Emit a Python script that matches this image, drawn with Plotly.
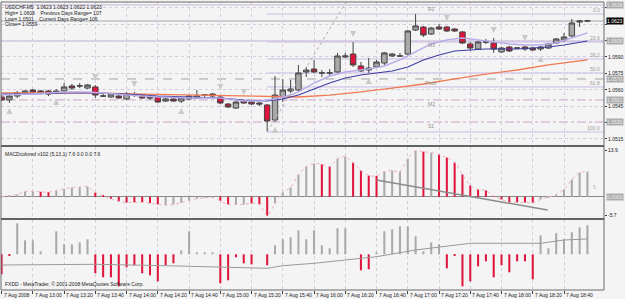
import plotly.graph_objects as go

# ---------------- data ----------------
bars = list(range(76))  # M5 bars, 7 Aug 2008 12:40 ... 18:55

open_ = [1.05534,1.05507,1.05543,1.05571,1.05598,1.05589,1.05589,1.05571,1.05589,1.05635,
 1.05635,1.05616,1.05626,1.05543,1.05534,1.05543,1.05516,1.05552,1.05552,1.05534,
 1.05534,1.05497,1.05516,1.05497,1.05516,1.05525,1.05552,1.05561,1.05534,1.05470,
 1.05433,1.05497,1.05488,1.05479,1.05461,1.05324,1.05534,1.05589,1.05598,1.05763,
 1.05790,1.05754,1.05754,1.05763,1.05900,1.05927,1.05818,1.05781,1.05809,1.05845,
 1.05909,1.05909,1.05927,1.06147,1.06174,1.06110,1.06174,1.06174,1.06156,1.06129,
 1.06019,1.05973,1.06037,1.06028,1.05946,1.05991,1.05982,1.05991,1.05982,1.05973,
 1.05982,1.06028,1.06056,1.06092,1.06220,1.06230]
high = [1.05552,1.05561,1.05589,1.05598,1.05607,1.05598,1.05598,1.05607,1.05662,1.05653,
 1.05662,1.05653,1.05644,1.05561,1.05571,1.05552,1.05580,1.05580,1.05561,1.05543,
 1.05543,1.05525,1.05525,1.05534,1.05552,1.05598,1.05561,1.05571,1.05552,1.05479,
 1.05497,1.05507,1.05497,1.05488,1.05470,1.05726,1.05699,1.05690,1.05827,1.05809,
 1.05873,1.05781,1.05790,1.05937,1.05937,1.06037,1.05854,1.05891,1.05873,1.05946,
 1.05937,1.05937,1.06147,1.06293,1.06184,1.06174,1.06202,1.06184,1.06165,1.06138,
 1.06037,1.06046,1.06065,1.06074,1.05991,1.06001,1.05991,1.06001,1.05991,1.06001,
 1.06028,1.06074,1.06120,1.06248,1.06239,1.06230]
low = [1.05497,1.05479,1.05525,1.05561,1.05571,1.05561,1.05543,1.05561,1.05580,1.05598,
 1.05616,1.05607,1.05525,1.05534,1.05525,1.05516,1.05507,1.05534,1.05516,1.05507,
 1.05479,1.05488,1.05488,1.05479,1.05507,1.05516,1.05534,1.05525,1.05470,1.05433,
 1.05424,1.05470,1.05461,1.05452,1.05214,1.05305,1.05488,1.05571,1.05589,1.05717,
 1.05754,1.05717,1.05726,1.05754,1.05891,1.05809,1.05763,1.05754,1.05799,1.05827,
 1.05900,1.05900,1.05918,1.06138,1.06083,1.06101,1.06147,1.06129,1.06129,1.06019,
 1.05955,1.05964,1.06019,1.05937,1.05937,1.05946,1.05973,1.05955,1.05955,1.05955,
 1.05973,1.06019,1.06037,1.06083,1.06174,1.06220]
close = [1.05507,1.05543,1.05571,1.05589,1.05580,1.05571,1.05561,1.05589,1.05626,1.05616,
 1.05635,1.05644,1.05552,1.05543,1.05561,1.05525,1.05561,1.05552,1.05525,1.05525,
 1.05488,1.05516,1.05497,1.05525,1.05543,1.05543,1.05552,1.05543,1.05479,1.05443,
 1.05488,1.05479,1.05470,1.05470,1.05314,1.05552,1.05598,1.05607,1.05754,1.05781,
 1.05763,1.05754,1.05754,1.05909,1.05909,1.05827,1.05772,1.05799,1.05854,1.05937,
 1.05927,1.05909,1.06138,1.06184,1.06101,1.06165,1.06156,1.06138,1.06138,1.06028,
 1.05982,1.06037,1.06037,1.05973,1.05982,1.05955,1.05982,1.05973,1.05964,1.05991,
 1.06019,1.06065,1.06083,1.06211,1.06229,1.06230]

ma_fast_idx = [0,4,8,11,13,16,20,24,28,31,33,35,37,38,40,42,44,47,49,51,53,55,57,59,61,63,65,67,69,71,73,75]
ma_fast = [1.05552,1.05561,1.05580,1.05580,1.05571,1.05552,1.05534,1.05525,1.05525,1.05497,1.05497,
 1.05516,1.05552,1.05580,1.05662,1.05726,1.05763,1.05790,1.05818,1.05873,1.05946,1.06019,1.06056,
 1.06074,1.06056,1.06037,1.06019,1.06010,1.06010,1.06028,1.06074,1.06120]
ma_mid_idx = [0,4,8,12,16,20,24,28,31,34,36,38,40,42,44,46,48,50,52,54,56,58,60,62,64,66,68,70,72,75]
ma_mid = [1.05561,1.05561,1.05571,1.05571,1.05561,1.05543,1.05534,1.05525,1.05507,1.05497,1.05516,
 1.05552,1.05607,1.05662,1.05708,1.05735,1.05754,1.05772,1.05809,1.05873,1.05918,1.05955,1.05964,
 1.05973,1.05973,1.05973,1.05982,1.05991,1.06010,1.06046]
ma_slow_idx = [0,6,12,18,24,30,34,38,42,46,50,54,58,62,66,70,75]
ma_slow = [1.05571,1.05571,1.05571,1.05561,1.05552,1.05543,1.05534,1.05534,1.05552,1.05580,1.05616,
 1.05653,1.05699,1.05744,1.05781,1.05827,1.05873]

fractal_up = [12, 17, 28, 31, 45, 57, 63, 67]
fractal_down = [1, 7, 23, 35, 47, 69]

pivot_names = ["R1", "M3", "Pivot", "M2", "S1"]
pivot_levels = [1.06376, 1.06046, 1.05699, 1.05507, 1.05305]
pivot_box_text = ["1.0638", "1.0605", "1.0570", "1.0551", "1.0530"]

fib_names = ["0.0", "23.6", "38.2", "50.0", "61.8", "100.0"]
fib_levels = [1.06293, 1.06037, 1.05882, 1.05754, 1.05626, 1.05214]
fib_start_bar = 34
fib_trend = ([34, 44.1], [1.05214, 1.06403])

bid = 1.06229

price_ticks = [1.0515, 1.0530, 1.0545, 1.0560, 1.0575, 1.0590, 1.0605, 1.0620, 1.0635]
price_tick_text = ["1.0515", "", "1.0545", "1.0560", "1.0575", "1.0590", "", "", ""]

macd = [0.0,0.3,0.7,1.6,1.6,1.5,1.4,1.9,2.4,2.8,2.9,3.1,1.3,0.3,-0.6,-1.4,-1.7,-1.7,-1.7,-1.9,
 -2.3,-2.5,-2.3,-1.8,-1.1,-0.6,-0.3,-0.2,-1.2,-2.3,-2.3,-2.3,-2.0,-2.3,-5.7,-2.0,1.3,2.8,6.7,9.1,
 10.0,9.8,9.1,11.5,12.1,10.3,7.9,6.4,6.3,7.6,7.9,7.6,11.5,13.9,13.6,13.3,12.7,11.8,10.3,6.7,
 3.4,2.2,1.9,0.1,-0.8,-1.7,-1.7,-1.7,-1.8,-0.8,-0.1,0.7,2.2,5.2,7.3,7.6]
macd_col = list("rggggrrggg" "ggrrrrrrrr" "rgggggggrr" "ggrrrggggg" "grrggrrrrg"
                "ggggrgrrrr" "rrrrrrrrrg" "gggggg")
macd_trend = ([48.0, 69.9], [5.06, -3.98])
macd_level_label = ("5", 3.0)

osc = [-2.0,-0.1,3.1,1.4,1.4,0.3,0.0,2.3,1.0,1.0,1.2,1.5,-1.9,-2.3,-2.3,-3.2,-1.3,-1.1,-1.9,-2.1,
 -2.7,-1.1,-0.9,0.4,2.3,0.2,0.2,0.2,-2.9,-2.6,-0.3,-0.9,-1.0,0.0,-1.1,0.9,1.5,1.7,2.4,1.5,
 2.4,0.9,0.6,2.6,2.6,0.0,-1.6,-1.5,0.2,2.3,2.5,2.8,2.8,1.8,0.3,1.2,1.0,-1.4,-0.1,-3.2,
 -2.7,-1.2,-0.7,-2.3,-1.1,-1.8,-0.7,-0.7,-2.5,1.9,0.6,2.1,1.5,2.2,2.7,2.9]
osc_sig_idx = [0, 12, 21, 28, 34, 36, 40, 48, 53, 60, 69, 72, 75]
osc_sig = [-1.07, -1.0, -1.14, -1.24, -1.4, -1.14, -0.9, -0.24, 0.43, 1.1, 1.1, 1.43, 1.53]

time_tick_bars = [0,4,8,12,16,20,24,28,32,36,40,44,48,52,56,60,64,68,72]
time_labels = ["7 Aug 2008","7 Aug 13:00","7 Aug 13:20","7 Aug 13:40","7 Aug 14:00","7 Aug 14:20",
 "7 Aug 14:40","7 Aug 15:00","7 Aug 15:20","7 Aug 15:40","7 Aug 16:00","7 Aug 16:20","7 Aug 16:40",
 "7 Aug 17:00","7 Aug 17:20","7 Aug 17:40","7 Aug 18:00","7 Aug 18:20","7 Aug 18:40"]

header = ["USDCHF,M5  1.0623 1.0623 1.0622 1.0623",
          "High= 1.0608    Previous Days Range= 107",
          "Low= 1.0501    Current Days Range= 106",
          "Close= 1.0559"]
macd_title = "MACDcolored v102 (5,13,1) 7.6 0.0 0.0 7.6"
copyright = "FXDD - MetaTrader, \u00a9 2001-2008 MetaQuotes Software Corp."

# ---------------- style ----------------
FONT = "Liberation Sans"
GREY = "#a9a9a9"
RED = "#e0143c"
GRID = "#d6cadf"
X_RANGE = [-0.076, 77.12]
pip_px = 0.0000915

fig = go.Figure()

fig.add_trace(go.Candlestick(
    x=bars, open=open_, high=high, low=low, close=close,
    increasing=dict(line=dict(color="#454545", width=1), fillcolor=GREY),
    decreasing=dict(line=dict(color="#454545", width=1), fillcolor=RED),
    whiskerwidth=0, xaxis="x", yaxis="y", hoverinfo="skip"))

fig.add_trace(go.Scatter(x=ma_slow_idx, y=ma_slow, mode="lines",
    line=dict(color="#f07a52", width=1.3), xaxis="x", yaxis="y"))
fig.add_trace(go.Scatter(x=ma_mid_idx, y=ma_mid, mode="lines",
    line=dict(color="#3e3ea2", width=1.1), xaxis="x", yaxis="y"))
fig.add_trace(go.Scatter(x=ma_fast_idx, y=ma_fast, mode="lines",
    line=dict(color="#b8aae8", width=1.4), xaxis="x", yaxis="y"))

fig.add_trace(go.Scatter(x=fractal_up, y=[high[i] + 5 * pip_px for i in fractal_up], mode="markers",
    marker=dict(symbol="arrow-down", size=6, color="#c8c8c8"), xaxis="x", yaxis="y"))
fig.add_trace(go.Scatter(x=fractal_down, y=[low[i] - 5 * pip_px for i in fractal_down], mode="markers",
    marker=dict(symbol="arrow-up", size=6, color="#c8c8c8"), xaxis="x", yaxis="y"))

fig.add_trace(go.Scatter(x=fib_trend[0], y=fib_trend[1], mode="lines",
    line=dict(color="#b0b0b0", width=1, dash="dot"), xaxis="x", yaxis="y"))

# MACD
fig.add_trace(go.Bar(x=bars, y=macd, width=0.26,
    marker=dict(color=[GREY if c == "g" else RED for c in macd_col], line_width=0),
    xaxis="x", yaxis="y2"))
fig.add_trace(go.Scatter(x=bars, y=macd, mode="lines",
    line=dict(color="#eab0c0", width=1, dash="dot", shape="spline", smoothing=0.8),
    xaxis="x", yaxis="y2"))
fig.add_trace(go.Scatter(x=macd_trend[0], y=macd_trend[1], mode="lines",
    line=dict(color="#8c8c8c", width=1.5), xaxis="x", yaxis="y2"))

# third window
fig.add_trace(go.Bar(x=bars, y=osc, width=0.26,
    marker=dict(color=[GREY if v > 0 else RED for v in osc], line_width=0),
    xaxis="x", yaxis="y3"))
fig.add_trace(go.Scatter(x=osc_sig_idx, y=osc_sig, mode="lines",
    line=dict(color="#9a9a9a", width=1), xaxis="x", yaxis="y3"))

shapes = []
pivot_styles = [("#c4b6dc", "solid"), ("#c4b6dc", "solid"), ("#a4a4a4", "dash"),
                ("#c8a8c8", "dashdot"), ("#d4a4c4", "dashdot")]
for lvl, (col, dsh) in zip(pivot_levels, pivot_styles):
    shapes.append(dict(type="line", xref="paper", x0=0, x1=1, yref="y", y0=lvl, y1=lvl,
                       line=dict(color=col, width=1, dash=dsh), layer="below"))
for lvl in fib_levels:
    shapes.append(dict(type="line", xref="x", x0=fib_start_bar, x1=X_RANGE[1], yref="y", y0=lvl, y1=lvl,
                       line=dict(color="#c8bce4", width=1), layer="below"))
shapes.append(dict(type="line", xref="paper", x0=0, x1=1, yref="y", y0=bid, y1=bid,
                   line=dict(color="#a6a6b4", width=1), layer="below"))
# frame & window separators
shapes.append(dict(type="rect", xref="paper", yref="paper", x0=0, x1=1, y0=0, y1=1,
                   line=dict(color="#6a6a6a", width=1)))
for yp in (0.5, 0.2465):
    shapes.append(dict(type="line", xref="paper", yref="paper", x0=0, x1=1, y0=yp, y1=yp,
                       line=dict(color="#626262", width=2)))

ann = []
for i, t in enumerate(header):
    ann.append(dict(text=t, xref="paper", yref="paper", x=0, y=1, xanchor="left", yanchor="top",
                    xshift=2, yshift=-(i * 5.8), showarrow=False, font=dict(size=5, color="#202020")))
for name, lvl in zip(pivot_names, pivot_levels):
    ann.append(dict(text=name, xref="x", yref="y", x=55, y=lvl, yshift=-4, showarrow=False,
                    font=dict(size=5, color="#8e8e8e")))
for name, lvl in zip(fib_names, fib_levels):
    ann.append(dict(text=name, xref="paper", yref="y", x=1, y=lvl, xanchor="right", xshift=-2,
                    yshift=4, showarrow=False, font=dict(size=5, color="#9a9a9a")))
for lvl, txt in zip(pivot_levels, pivot_box_text):
    ann.append(dict(text=txt, xref="paper", yref="y", x=1, y=lvl, xanchor="left", xshift=2,
                    showarrow=False, bgcolor="#ababab", borderpad=0, font=dict(size=5, color="#eeeeee")))
ann.append(dict(text="1.0623", xref="paper", yref="y", x=1, y=bid, xanchor="left", xshift=2,
                showarrow=False, bgcolor="#000000", borderpad=0, font=dict(size=5, color="#ffffff")))
ann.append(dict(text="0.0000", xref="paper", yref="y2", x=1, y=0, xanchor="left", xshift=2,
                showarrow=False, bgcolor="#ababab", borderpad=0, font=dict(size=5, color="#eeeeee")))
ann.append(dict(text=macd_level_label[0], xref="paper", yref="y2", x=1, y=macd_level_label[1],
                xanchor="right", xshift=-6, showarrow=False, font=dict(size=5, color="#b4b4b4")))
ann.append(dict(text=macd_title, xref="paper", yref="paper", x=0, y=0.4965, xanchor="left", yanchor="top",
                xshift=2, yshift=-2, showarrow=False, font=dict(size=5, color="#202020")))
ann.append(dict(text=copyright, xref="paper", yref="paper", x=0, y=0, xanchor="left", yanchor="bottom",
                xshift=2, yshift=1, showarrow=False, font=dict(size=5, color="#202020")))
for b, t in zip(time_tick_bars, time_labels):
    ann.append(dict(text=t, xref="x", yref="paper", x=b, y=0, xanchor="left", yanchor="top",
                    xshift=0, yshift=0, showarrow=False, font=dict(size=5, color="#202020")))

fig.update_layout(
    width=625, height=299, margin=dict(l=1, r=18, t=2, b=9, pad=0),
    paper_bgcolor="#f4f4f4", plot_bgcolor="#f4f4f4",
    showlegend=False, hovermode=False, barmode="overlay", boxgap=0.3, boxgroupgap=0.0,
    font=dict(family=FONT, size=5, color="#202020"),
    shapes=shapes, annotations=ann,
    xaxis=dict(domain=[0, 1], range=X_RANGE, anchor="y3", tickvals=time_tick_bars, showticklabels=False,
               ticks="outside", ticklen=3, tickcolor="#404040", showgrid=True, gridcolor=GRID,
               griddash="dot", gridwidth=1, zeroline=False, showline=False,
               rangeslider=dict(visible=False), fixedrange=True),
    yaxis=dict(domain=[0.5035, 1], range=[1.05095, 1.06403], side="right", anchor="x",
               tickvals=price_ticks, ticktext=price_tick_text,
               ticks="outside", ticklen=2, tickcolor="#404040", tickfont=dict(size=5),
               showgrid=True, gridcolor=GRID, griddash="dot", zeroline=False, fixedrange=True),
    yaxis2=dict(domain=[0.25, 0.4965], range=[-6.39, 15.0], side="right", anchor="x",
                tickvals=[13.9, -5.7], ticktext=["13.9", "-5.7"], ticks="outside", ticklen=2,
                tickcolor="#404040", tickfont=dict(size=5), showgrid=False,
                zeroline=True, zerolinecolor="#8a8a8a", zerolinewidth=1, fixedrange=True),
    yaxis3=dict(domain=[0, 0.2431], range=[-3.57, 3.43], side="right", anchor="x",
                showticklabels=False, ticks="", showgrid=False, zeroline=False, fixedrange=True),
)

fig.write_html("out.html")
